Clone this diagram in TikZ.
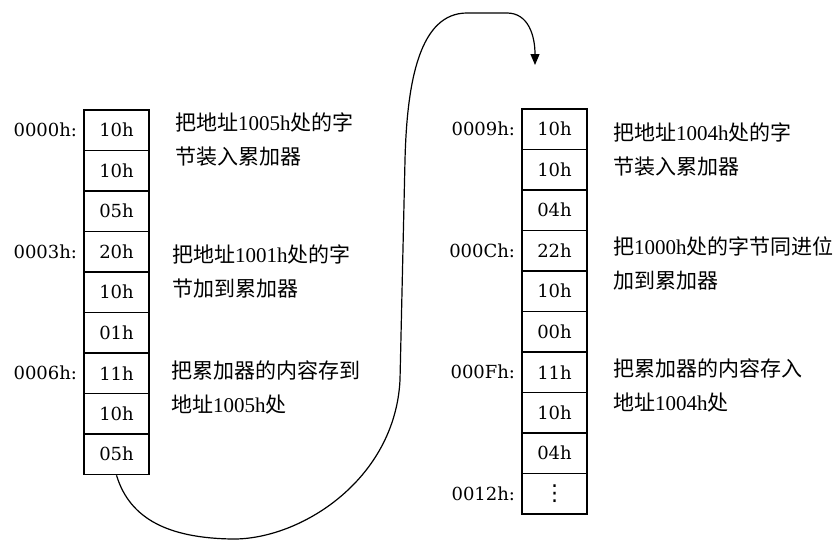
\documentclass[tikz,border=0pt]{standalone}
\usepackage{fontspec}
\setmainfont{Liberation Serif}
\newfontfamily\cjk{Noto Sans CJK SC}
\newfontfamily\hexfont{DejaVu Serif}
\newfontfamily\symfont{DejaVu Sans}
\newcommand{\zh}[1]{{\cjk #1}}
\usetikzlibrary{arrows.meta,positioning}

\begin{document}
\begin{tikzpicture}[
  x=1pt, y=-1pt,
  cell/.style={draw, line width=1.5pt, minimum width=65pt, minimum height=40.5pt, inner sep=0pt, font=\hexfont\fontsize{18}{18}\selectfont},
  addr/.style={inner sep=0pt, font=\hexfont\fontsize{18}{18}\selectfont},
  note/.style={anchor=west, align=left, inner sep=0pt, font=\fontsize{21}{34}\selectfont},
  node distance=6pt,
  >={Triangle[length=11pt,width=9pt]}
]
\useasboundingbox (0,0) rectangle (837,541);
% left column
\foreach \v [count=\i] in {10h,10h,05h,20h,10h,01h,11h,10h,05h}
  \node[cell] (L\i) at ({116.5}, {130.25+40.5*(\i-1)}) {\v};
\node[addr, left=of L1] (a0) {0000h:};
\node[addr, left=of L4] (a3) {0003h:};
\node[addr, left=of L7] (a6) {0006h:};
% right column
\foreach \v [count=\i] in {10h,10h,04h,22h,10h,00h,11h,10h,04h,{\symfont\fontsize{22}{22}\selectfont ⋮}}
  \node[cell] (R\i) at ({554.5}, {129.25+40.5*(\i-1)}) {\v};
\node[addr, left=of R1] (a9) {0009h:};
\node[addr, left=of R4] (aC) {000Ch:};
\node[addr, left=of R7] (aF) {000Fh:};
\node[addr, left=of R10] (a12) {0012h:};
% notes
\node[note] (n1) at (175,139.5) {\zh{把地址}1005h\zh{处的字}\\\zh{节装入累加器}};
\node[note] (n2) at (172,271.5) {\zh{把地址}1001h\zh{处的字}\\\zh{节加到累加器}};
\node[note] (n3) at (171,387.5) {\zh{把累加器的内容存到}\\\zh{地址}1005h\zh{处}};
\node[note] (n4) at (613,149.5) {\zh{把地址}1004h\zh{处的字}\\\zh{节装入累加器}};
\node[note] (n5) at (613,263) {\zh{把}1000h\zh{处的字节同进位}\\\zh{加到累加器}};
\node[note] (n6) at (613,385) {\zh{把累加器的内容存入}\\\zh{地址}1004h\zh{处}};
% jump
\coordinate (tip) at (535,65);
\draw[->, line width=1.2pt] (L9.south) .. controls (130,520) and (170,538) .. (232,539)
  .. controls (300,540) and (395,480) .. (400,380)
  -- (405,160)
  .. controls (407,80) and (420,13) .. (467,13)
  -- (507,13)
  .. controls (528,13) and (535,35) .. (tip);
\end{tikzpicture}
\end{document}
